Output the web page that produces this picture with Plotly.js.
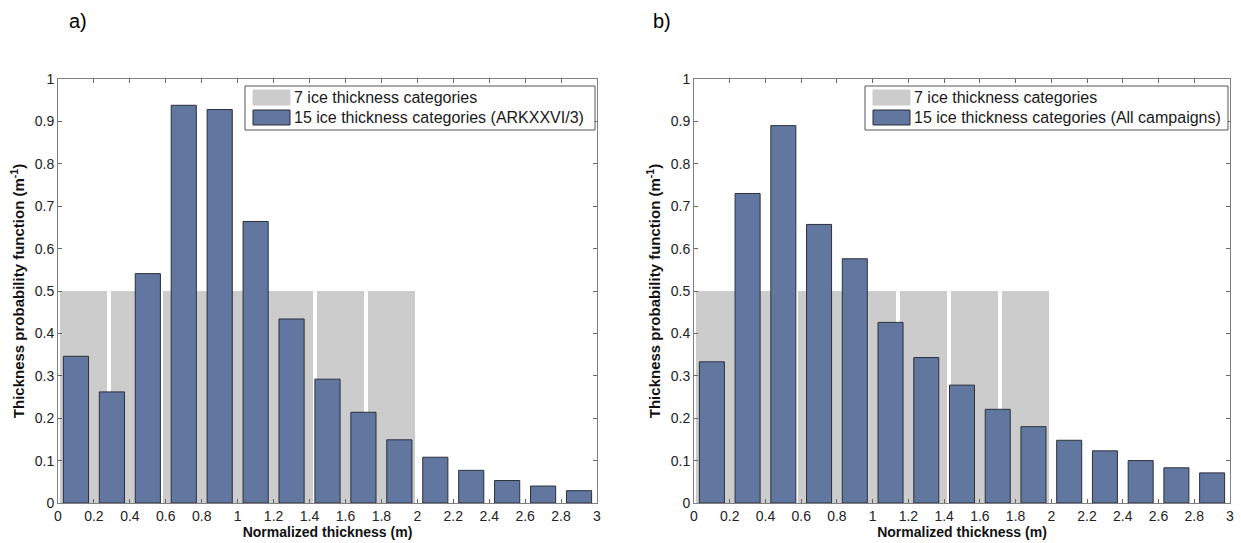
<!DOCTYPE html>
<html>
<head>
<meta charset="utf-8">
<script src="https://cdn.plot.ly/plotly-3.0.1.min.js"></script>
<style>html,body{margin:0;padding:0;background:#fff}#chart{width:1241px;height:543px}</style>
</head>
<body>
<div id="chart"></div>
<script>
// ---- data ----
var grayCenters = [1/7, 3/7, 5/7, 7/7, 9/7, 11/7, 13/7];
var grayValues = [0.5, 0.5, 0.5, 0.5, 0.5, 0.5, 0.5];
var blueCenters = [0.1, 0.3, 0.5, 0.7, 0.9, 1.1, 1.3, 1.5, 1.7, 1.9, 2.1, 2.3, 2.5, 2.7, 2.9];
var arkValues = [0.346, 0.262, 0.541, 0.938, 0.928, 0.664, 0.434, 0.292, 0.214, 0.149, 0.108, 0.077, 0.053, 0.040, 0.029];
var allValues = [0.333, 0.730, 0.890, 0.657, 0.576, 0.426, 0.343, 0.278, 0.221, 0.180, 0.148, 0.123, 0.100, 0.083, 0.071];
var xTickVals = [0, 0.2, 0.4, 0.6, 0.8, 1, 1.2, 1.4, 1.6, 1.8, 2, 2.2, 2.4, 2.6, 2.8, 3];
var xTickText = ['0','0.2','0.4','0.6','0.8','1','1.2','1.4','1.6','1.8','2','2.2','2.4','2.6','2.8','3'];
var yTickVals = [0, 0.1, 0.2, 0.3, 0.4, 0.5, 0.6, 0.7, 0.8, 0.9, 1];
var yTickText = ['0','0.1','0.2','0.3','0.4','0.5','0.6','0.7','0.8','0.9','1'];
var grayName = '7 ice thickness categories';
var arkName = '15 ice thickness categories (ARKXXVI/3)';
var allName = '15 ice thickness categories (All campaigns)';

var GRAY = '#cccccc', BLUE = '#6277a0', EDGE = '#2a2f3a';
var grayW = 0.92 * 2 / 7, blueW = 0.14;

var traces = [
  {type:'bar', x:grayCenters, y:grayValues, width:grayW, name:grayName, xaxis:'x', yaxis:'y',
   marker:{color:GRAY, line:{width:0}}},
  {type:'bar', x:blueCenters, y:arkValues, width:blueW, name:arkName, xaxis:'x', yaxis:'y',
   marker:{color:BLUE, line:{color:EDGE, width:1}}},
  {type:'bar', x:grayCenters, y:grayValues, width:grayW, name:grayName, xaxis:'x2', yaxis:'y2',
   marker:{color:GRAY, line:{width:0}}},
  {type:'bar', x:blueCenters, y:allValues, width:blueW, name:allName, xaxis:'x2', yaxis:'y2',
   marker:{color:BLUE, line:{color:EDGE, width:1}}}
];

var FAM = '"Liberation Sans", Arial, sans-serif';
var tickFont = {family:FAM, size:14, color:'#222'};
var xTitleFont = {family:FAM, size:14, color:'#111', weight:'bold'};
var yTitleFont = {family:FAM, size:15, color:'#111', weight:'bold'};
var legFont = {family:FAM, size:16, color:'#1a1a1a'};

function xax(domain){
  return {domain:domain, range:[0,3], tickvals:xTickVals, ticktext:xTickText, ticks:'inside', ticklen:4,
    tickcolor:'#666', showline:true, linecolor:'#808080', linewidth:1, mirror:'ticks', showgrid:false, zeroline:false,
    tickfont:tickFont, title:{text:'<b>Normalized thickness (m)</b>', font:xTitleFont, standoff:1}, fixedrange:true};
}
function yax(domain, anchor){
  return {domain:domain, range:[0,1], tickvals:yTickVals, ticktext:yTickText, ticks:'inside', ticklen:4, anchor:anchor,
    tickcolor:'#666', showline:true, linecolor:'#808080', linewidth:1, mirror:'ticks', showgrid:false, zeroline:false,
    tickfont:tickFont, title:{text:'<b>Thickness probability function (m<sup>-1</sup>)</b>', font:yTitleFont, standoff:6}, fixedrange:true};
}

// legend boxes drawn as layout decoration (pixel positions -> paper coords)
var W = 1241, H = 543;
function px(x){ return x / W; }
function py(y){ return 1 - y / H; }
var shapes = [], annotations = [];
function addLegend(left, right, names){
  shapes.push({type:'rect', xref:'paper', yref:'paper', x0:px(left), x1:px(right), y0:py(86), y1:py(130),
    fillcolor:'#fff', line:{color:'#555', width:1}, layer:'above'});
  var rowTop = [90, 110], colors = [GRAY, BLUE], edges = [GRAY, EDGE];
  for (var i = 0; i < 2; i++){
    shapes.push({type:'rect', xref:'paper', yref:'paper', x0:px(left + 8), x1:px(left + 45),
      y0:py(rowTop[i] + 15), y1:py(rowTop[i]), fillcolor:colors[i], line:{color:edges[i], width:1}, layer:'above'});
    annotations.push({text:names[i], xref:'paper', yref:'paper', x:px(left + 47), y:py(rowTop[i] + 7.5),
      xanchor:'left', yanchor:'middle', showarrow:false, font:legFont});
  }
}
addLegend(245, 595, [grayName, arkName]);
addLegend(865, 1228, [grayName, allName]);
annotations.push({text:'a)', xref:'paper', yref:'paper', x:px(78), y:py(21), showarrow:false, xanchor:'center', yanchor:'middle',
  font:{family:FAM, size:20, color:'#000'}});
annotations.push({text:'b)', xref:'paper', yref:'paper', x:px(662), y:py(21), showarrow:false, xanchor:'center', yanchor:'middle',
  font:{family:FAM, size:20, color:'#000'}});

var yd = [py(503), py(79)];
var layout = {
  width:W, height:H, margin:{l:0, r:0, t:0, b:0}, paper_bgcolor:'#fff', plot_bgcolor:'#fff',
  barmode:'overlay', bargap:0, showlegend:false,
  xaxis: Object.assign(xax([px(58), px(597)]), {anchor:'y'}),
  yaxis: yax(yd, 'x'),
  xaxis2: Object.assign(xax([px(694), px(1230)]), {anchor:'y2'}),
  yaxis2: yax(yd, 'x2'),
  shapes: shapes,
  annotations: annotations
};

Plotly.newPlot('chart', traces, layout, {displayModeBar:false, staticPlot:true});
</script>
</body>
</html>
